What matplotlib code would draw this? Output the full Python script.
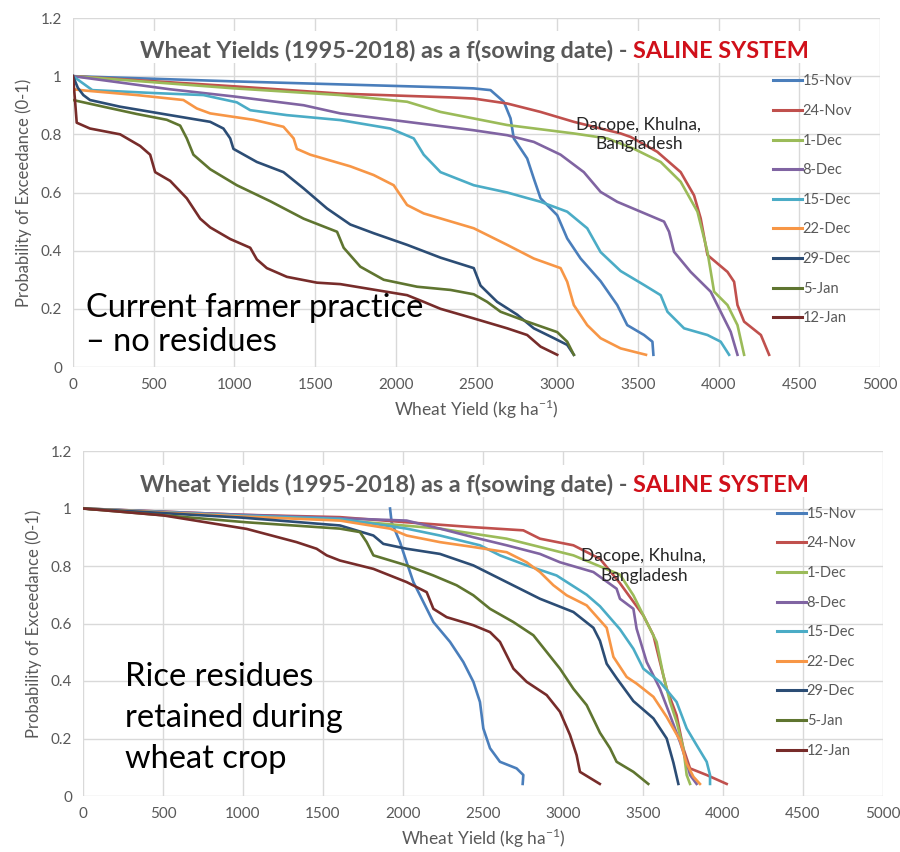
import matplotlib
matplotlib.use("Agg")
import matplotlib.pyplot as plt
from matplotlib.lines import Line2D

plt.rcParams['font.family'] = ['Lato', 'DejaVu Sans']

# ---- sowing dates and colours ----
sowing_dates = ["15-Nov", "24-Nov", "1-Dec", "8-Dec", "15-Dec",
                "22-Dec", "29-Dec", "5-Jan", "12-Jan"]
line_colors = ["#4A7EBB", "#C0504D", "#9BBB59", "#8064A2", "#4BACC6",
               "#F79646", "#2C4D75", "#5F7530", "#772C2A"]

# ---- current farmer practice (no residues): yield (kg/ha), exceedance prob ----
cfp_15nov_x = [0, 1000, 2340, 2483, 2587, 2669, 2711, 2731, 2814, 2855, 2897, 3000, 3062, 3145, 3269, 3372, 3434, 3538, 3590, 3596]
cfp_15nov_y = [1.0, 0.982, 0.961, 0.958, 0.952, 0.912, 0.855, 0.786, 0.717, 0.648, 0.58, 0.522, 0.442, 0.373, 0.295, 0.213, 0.144, 0.11, 0.087, 0.042]
cfp_24nov_x = [0, 1000, 1656, 2339, 2483, 2690, 2897, 3103, 3269, 3393, 3455, 3620, 3765, 3848, 3889, 3931, 4055, 4096, 4117, 4158, 4262, 4313]
cfp_24nov_y = [1.0, 0.965, 0.94, 0.927, 0.923, 0.906, 0.877, 0.843, 0.82, 0.803, 0.791, 0.74, 0.67, 0.59, 0.511, 0.385, 0.327, 0.293, 0.213, 0.156, 0.11, 0.042]
cfp_1dec_x = [0, 1000, 1656, 2070, 2277, 2690, 3103, 3310, 3476, 3641, 3765, 3869, 3931, 3972, 4055, 4117, 4158]
cfp_1dec_y = [1.0, 0.958, 0.935, 0.912, 0.877, 0.832, 0.803, 0.786, 0.75, 0.705, 0.637, 0.534, 0.396, 0.259, 0.213, 0.144, 0.042]
cfp_8dec_x = [0, 600, 1000, 1429, 1656, 2070, 2483, 2690, 2855, 3021, 3165, 3269, 3372, 3517, 3662, 3693, 3724, 3827, 3951, 4013, 4075, 4117]
cfp_8dec_y = [1.0, 0.955, 0.93, 0.90, 0.872, 0.843, 0.814, 0.797, 0.774, 0.73, 0.67, 0.602, 0.568, 0.534, 0.50, 0.465, 0.396, 0.327, 0.259, 0.19, 0.121, 0.042]
cfp_15dec_x = [0, 120, 500, 808, 1015, 1098, 1325, 1656, 1966, 2111, 2173, 2277, 2483, 2690, 2897, 3062, 3186, 3269, 3393, 3538, 3641, 3683, 3786, 3931, 4013, 4065]
cfp_15dec_y = [1.0, 0.952, 0.942, 0.935, 0.91, 0.883, 0.866, 0.849, 0.82, 0.786, 0.73, 0.67, 0.625, 0.60, 0.568, 0.534, 0.477, 0.395, 0.33, 0.282, 0.247, 0.19, 0.133, 0.11, 0.087, 0.042]
cfp_22dec_x = [0, 85, 395, 684, 767, 850, 1118, 1304, 1367, 1387, 1470, 1718, 1863, 1987, 2070, 2173, 2483, 2690, 2855, 3021, 3062, 3103, 3186, 3269, 3393, 3550]
cfp_22dec_y = [0.955, 0.95, 0.935, 0.918, 0.889, 0.872, 0.85, 0.826, 0.786, 0.75, 0.73, 0.69, 0.66, 0.625, 0.557, 0.528, 0.477, 0.42, 0.373, 0.34, 0.293, 0.213, 0.144, 0.099, 0.064, 0.042]
cfp_29dec_x = [0, 30, 64, 105, 292, 602, 850, 932, 974, 994, 1139, 1304, 1429, 1574, 1718, 1863, 2070, 2277, 2483, 2525, 2628, 2752, 2855, 2980, 3062, 3103]
cfp_29dec_y = [1.0, 0.96, 0.935, 0.918, 0.895, 0.866, 0.843, 0.82, 0.786, 0.75, 0.705, 0.67, 0.614, 0.545, 0.49, 0.46, 0.42, 0.376, 0.34, 0.28, 0.224, 0.18, 0.133, 0.099, 0.076, 0.042]
cfp_5jan_x = [0, 188, 395, 581, 664, 705, 746, 850, 1015, 1222, 1429, 1636, 1677, 1780, 1925, 2132, 2339, 2483, 2566, 2649, 2814, 3000, 3062, 3103]
cfp_5jan_y = [0.918, 0.895, 0.87, 0.85, 0.83, 0.786, 0.73, 0.68, 0.625, 0.57, 0.51, 0.465, 0.41, 0.345, 0.30, 0.276, 0.265, 0.25, 0.224, 0.19, 0.156, 0.12, 0.087, 0.042]
cfp_12jan_x = [0, 12, 23, 105, 292, 416, 478, 509, 602, 705, 788, 850, 974, 1098, 1139, 1201, 1325, 1511, 1656, 2070, 2173, 2277, 2483, 2690, 2814, 2897, 3000]
cfp_12jan_y = [1.0, 0.92, 0.84, 0.82, 0.80, 0.76, 0.73, 0.67, 0.64, 0.58, 0.51, 0.48, 0.44, 0.41, 0.37, 0.34, 0.31, 0.29, 0.285, 0.247, 0.224, 0.20, 0.167, 0.133, 0.11, 0.07, 0.042]

# ---- rice residues retained: yield (kg/ha), exceedance prob ----
rr_15nov_x = [1919, 1929, 1981, 2023, 2065, 2127, 2190, 2294, 2377, 2440, 2481, 2502, 2544, 2606, 2710, 2752, 2748]
rr_15nov_y = [1.0, 0.952, 0.883, 0.813, 0.744, 0.675, 0.605, 0.536, 0.466, 0.397, 0.327, 0.235, 0.166, 0.119, 0.096, 0.073, 0.042]
rr_24nov_x = [0, 1000, 1606, 2023, 2440, 2752, 2856, 3065, 3231, 3356, 3502, 3565, 3606, 3648, 3710, 3752, 3794, 3898, 4023]
rr_24nov_y = [1.0, 0.978, 0.97, 0.952, 0.935, 0.924, 0.895, 0.872, 0.825, 0.74, 0.628, 0.559, 0.466, 0.373, 0.281, 0.166, 0.096, 0.073, 0.042]
rr_1dec_x = [0, 1000, 1606, 2231, 2648, 3065, 3356, 3440, 3523, 3585, 3627, 3669, 3710, 3752, 3773, 3794]
rr_1dec_y = [1.0, 0.975, 0.96, 0.93, 0.895, 0.837, 0.77, 0.698, 0.605, 0.536, 0.42, 0.327, 0.258, 0.166, 0.073, 0.042]
rr_8dec_x = [0, 1000, 2023, 2231, 2440, 2648, 2856, 2981, 3190, 3335, 3356, 3440, 3460, 3523, 3606, 3669, 3731, 3773, 3794, 3835]
rr_8dec_y = [1.0, 0.978, 0.958, 0.93, 0.90, 0.872, 0.842, 0.813, 0.779, 0.721, 0.686, 0.651, 0.582, 0.466, 0.373, 0.281, 0.188, 0.119, 0.073, 0.042]
rr_15dec_x = [0, 1000, 1606, 2023, 2231, 2481, 2606, 2773, 2960, 3148, 3231, 3356, 3440, 3502, 3606, 3710, 3773, 3835, 3898, 3919, 3919]
rr_15dec_y = [1.0, 0.975, 0.964, 0.93, 0.906, 0.872, 0.837, 0.802, 0.767, 0.70, 0.66, 0.58, 0.512, 0.443, 0.397, 0.327, 0.235, 0.177, 0.119, 0.073, 0.042]
rr_22dec_x = [0, 1000, 1606, 1919, 2023, 2231, 2440, 2648, 2773, 2856, 2940, 3023, 3148, 3273, 3315, 3398, 3460, 3565, 3648, 3731, 3773, 3815, 3856]
rr_22dec_y = [1.0, 0.972, 0.958, 0.93, 0.906, 0.883, 0.866, 0.848, 0.813, 0.779, 0.733, 0.698, 0.663, 0.585, 0.484, 0.414, 0.391, 0.345, 0.275, 0.194, 0.113, 0.067, 0.042]
rr_29dec_x = [0, 1000, 1606, 1815, 1877, 2023, 2231, 2440, 2648, 2856, 3065, 3190, 3231, 3273, 3335, 3440, 3565, 3648, 3690, 3721]
rr_29dec_y = [1.0, 0.968, 0.941, 0.906, 0.877, 0.86, 0.842, 0.802, 0.744, 0.686, 0.64, 0.585, 0.54, 0.46, 0.41, 0.33, 0.27, 0.2, 0.116, 0.042]
rr_5jan_x = [0, 1023, 1606, 1731, 1773, 1815, 2023, 2190, 2335, 2440, 2544, 2690, 2815, 2898, 2981, 3065, 3148, 3231, 3294, 3335, 3440, 3533]
rr_5jan_y = [1.0, 0.952, 0.93, 0.918, 0.883, 0.837, 0.802, 0.767, 0.733, 0.698, 0.651, 0.605, 0.559, 0.501, 0.443, 0.373, 0.316, 0.22, 0.166, 0.119, 0.084, 0.042]
rr_12jan_x = [0, 502, 1023, 1335, 1460, 1523, 1606, 1815, 2023, 2148, 2190, 2273, 2440, 2544, 2606, 2690, 2773, 2898, 2981, 3044, 3085, 3106, 3230]
rr_12jan_y = [1.0, 0.976, 0.929, 0.883, 0.86, 0.837, 0.819, 0.79, 0.744, 0.709, 0.651, 0.622, 0.594, 0.57, 0.536, 0.443, 0.397, 0.351, 0.293, 0.212, 0.142, 0.084, 0.042]

cfp_series = [(cfp_15nov_x, cfp_15nov_y), (cfp_24nov_x, cfp_24nov_y), (cfp_1dec_x, cfp_1dec_y),
              (cfp_8dec_x, cfp_8dec_y), (cfp_15dec_x, cfp_15dec_y), (cfp_22dec_x, cfp_22dec_y),
              (cfp_29dec_x, cfp_29dec_y), (cfp_5jan_x, cfp_5jan_y), (cfp_12jan_x, cfp_12jan_y)]
rr_series = [(rr_15nov_x, rr_15nov_y), (rr_24nov_x, rr_24nov_y), (rr_1dec_x, rr_1dec_y),
             (rr_8dec_x, rr_8dec_y), (rr_15dec_x, rr_15dec_y), (rr_22dec_x, rr_22dec_y),
             (rr_29dec_x, rr_29dec_y), (rr_5jan_x, rr_5jan_y), (rr_12jan_x, rr_12jan_y)]

x_ticks = [0, 500, 1000, 1500, 2000, 2500, 3000, 3500, 4000, 4500, 5000]
y_ticks = [0, 0.2, 0.4, 0.6, 0.8, 1.0, 1.2]
y_tick_labels = ["0", "0.2", "0.4", "0.6", "0.8", "1", "1.2"]

title_main = "Wheat Yields (1995-2018) as a f(sowing date) - "
title_red = "SALINE SYSTEM"
site_label = "Dacope, Khulna,\nBangladesh"
panel_notes = ["Current farmer practice\n\u2013 no residues",
               "Rice residues\nretained during\nwheat crop"]

GRAY = "#595959"
GRID = "#D9D9D9"

fig = plt.figure(figsize=(9.0, 8.52), dpi=100)
ax_top = fig.add_axes([73 / 900, 1 - 367 / 852, 807 / 900, 349 / 852])
ax_bot = fig.add_axes([83 / 900, 1 - 796 / 852, 800 / 900, 345 / 852])


def style_axes(ax):
    ax.set_xlim(0, 5000)
    ax.set_ylim(0, 1.2)
    ax.set_xticks(x_ticks)
    ax.set_yticks(y_ticks)
    ax.set_yticklabels(y_tick_labels)
    ax.tick_params(length=0, labelsize=11, labelcolor=GRAY, pad=8)
    ax.grid(True, color=GRID, lw=1.0)
    ax.set_axisbelow(True)
    for s in ax.spines.values():
        s.set_visible(False)
    ax.set_xlabel(r"Wheat Yield (kg ha$^{\mathregular{-1}}$)", color=GRAY, fontsize=12.5, labelpad=4)
    ax.set_ylabel("Probability of Exceedance (0-1)", color=GRAY, fontsize=12, labelpad=6)


def draw_title(ax, y_px_from_top):
    t1 = ax.text(0.0, 0.0, title_main, fontsize=16.8, fontweight="bold", color=GRAY,
                 transform=ax.transAxes)
    t2 = ax.text(0.0, 0.0, title_red, fontsize=16.8, fontweight="bold", color="#D0101A",
                 transform=ax.transAxes)
    fig.canvas.draw()
    r = fig.canvas.get_renderer()
    w1 = t1.get_window_extent(r).width
    w2 = t2.get_window_extent(r).width
    h = t1.get_window_extent(r).height
    cx = 474
    y = fig.bbox.height - y_px_from_top - h / 2
    x0 = cx - (w1 + w2) / 2
    for t, x in ((t1, x0), (t2, x0 + w1)):
        t.set_transform(None)
        t.set_position((x, y))
    # white band behind the title hides the grid lines
    pad = 5
    ax.add_artist(plt.Rectangle((x0 - pad, y - pad), w1 + w2 + 2 * pad, h + 2 * pad,
                                transform=None, facecolor="white", edgecolor="none", zorder=1.5))
    t1.set_zorder(3)
    t2.set_zorder(3)


for ax, series, note, note_xy, lsp, title_y in (
        (ax_top, cfp_series, panel_notes[0], (80, 0.256), 1.18, 47),
        (ax_bot, rr_series, panel_notes[1], (262, 0.466), 1.45, 481)):
    style_axes(ax)
    for (xs, ys), c, lab in zip(series, line_colors, sowing_dates):
        ax.plot(xs, ys, color=c, lw=1.9, label=lab, solid_joinstyle="round", zorder=2)
    ax.text(3505, 0.80, site_label, ha="center", va="center", fontsize=12.5,
            color="#262626", linespacing=1.25, zorder=4)
    ax.text(note_xy[0], note_xy[1], note, ha="left", va="top", fontsize=23.5,
            color="black", linespacing=lsp, zorder=4)
    handles = [Line2D([], [], color=c, lw=2.2) for c in line_colors]
    ax.legend(handles, sowing_dates, loc="upper left", bbox_to_anchor=(0.86, 0.855),
              frameon=False, fontsize=10.5, labelcolor=GRAY, handlelength=2.0,
              handletextpad=0.05, labelspacing=1.07, borderaxespad=0)
    draw_title(ax, title_y)

fig.savefig("out.png", dpi=100, facecolor="white")
